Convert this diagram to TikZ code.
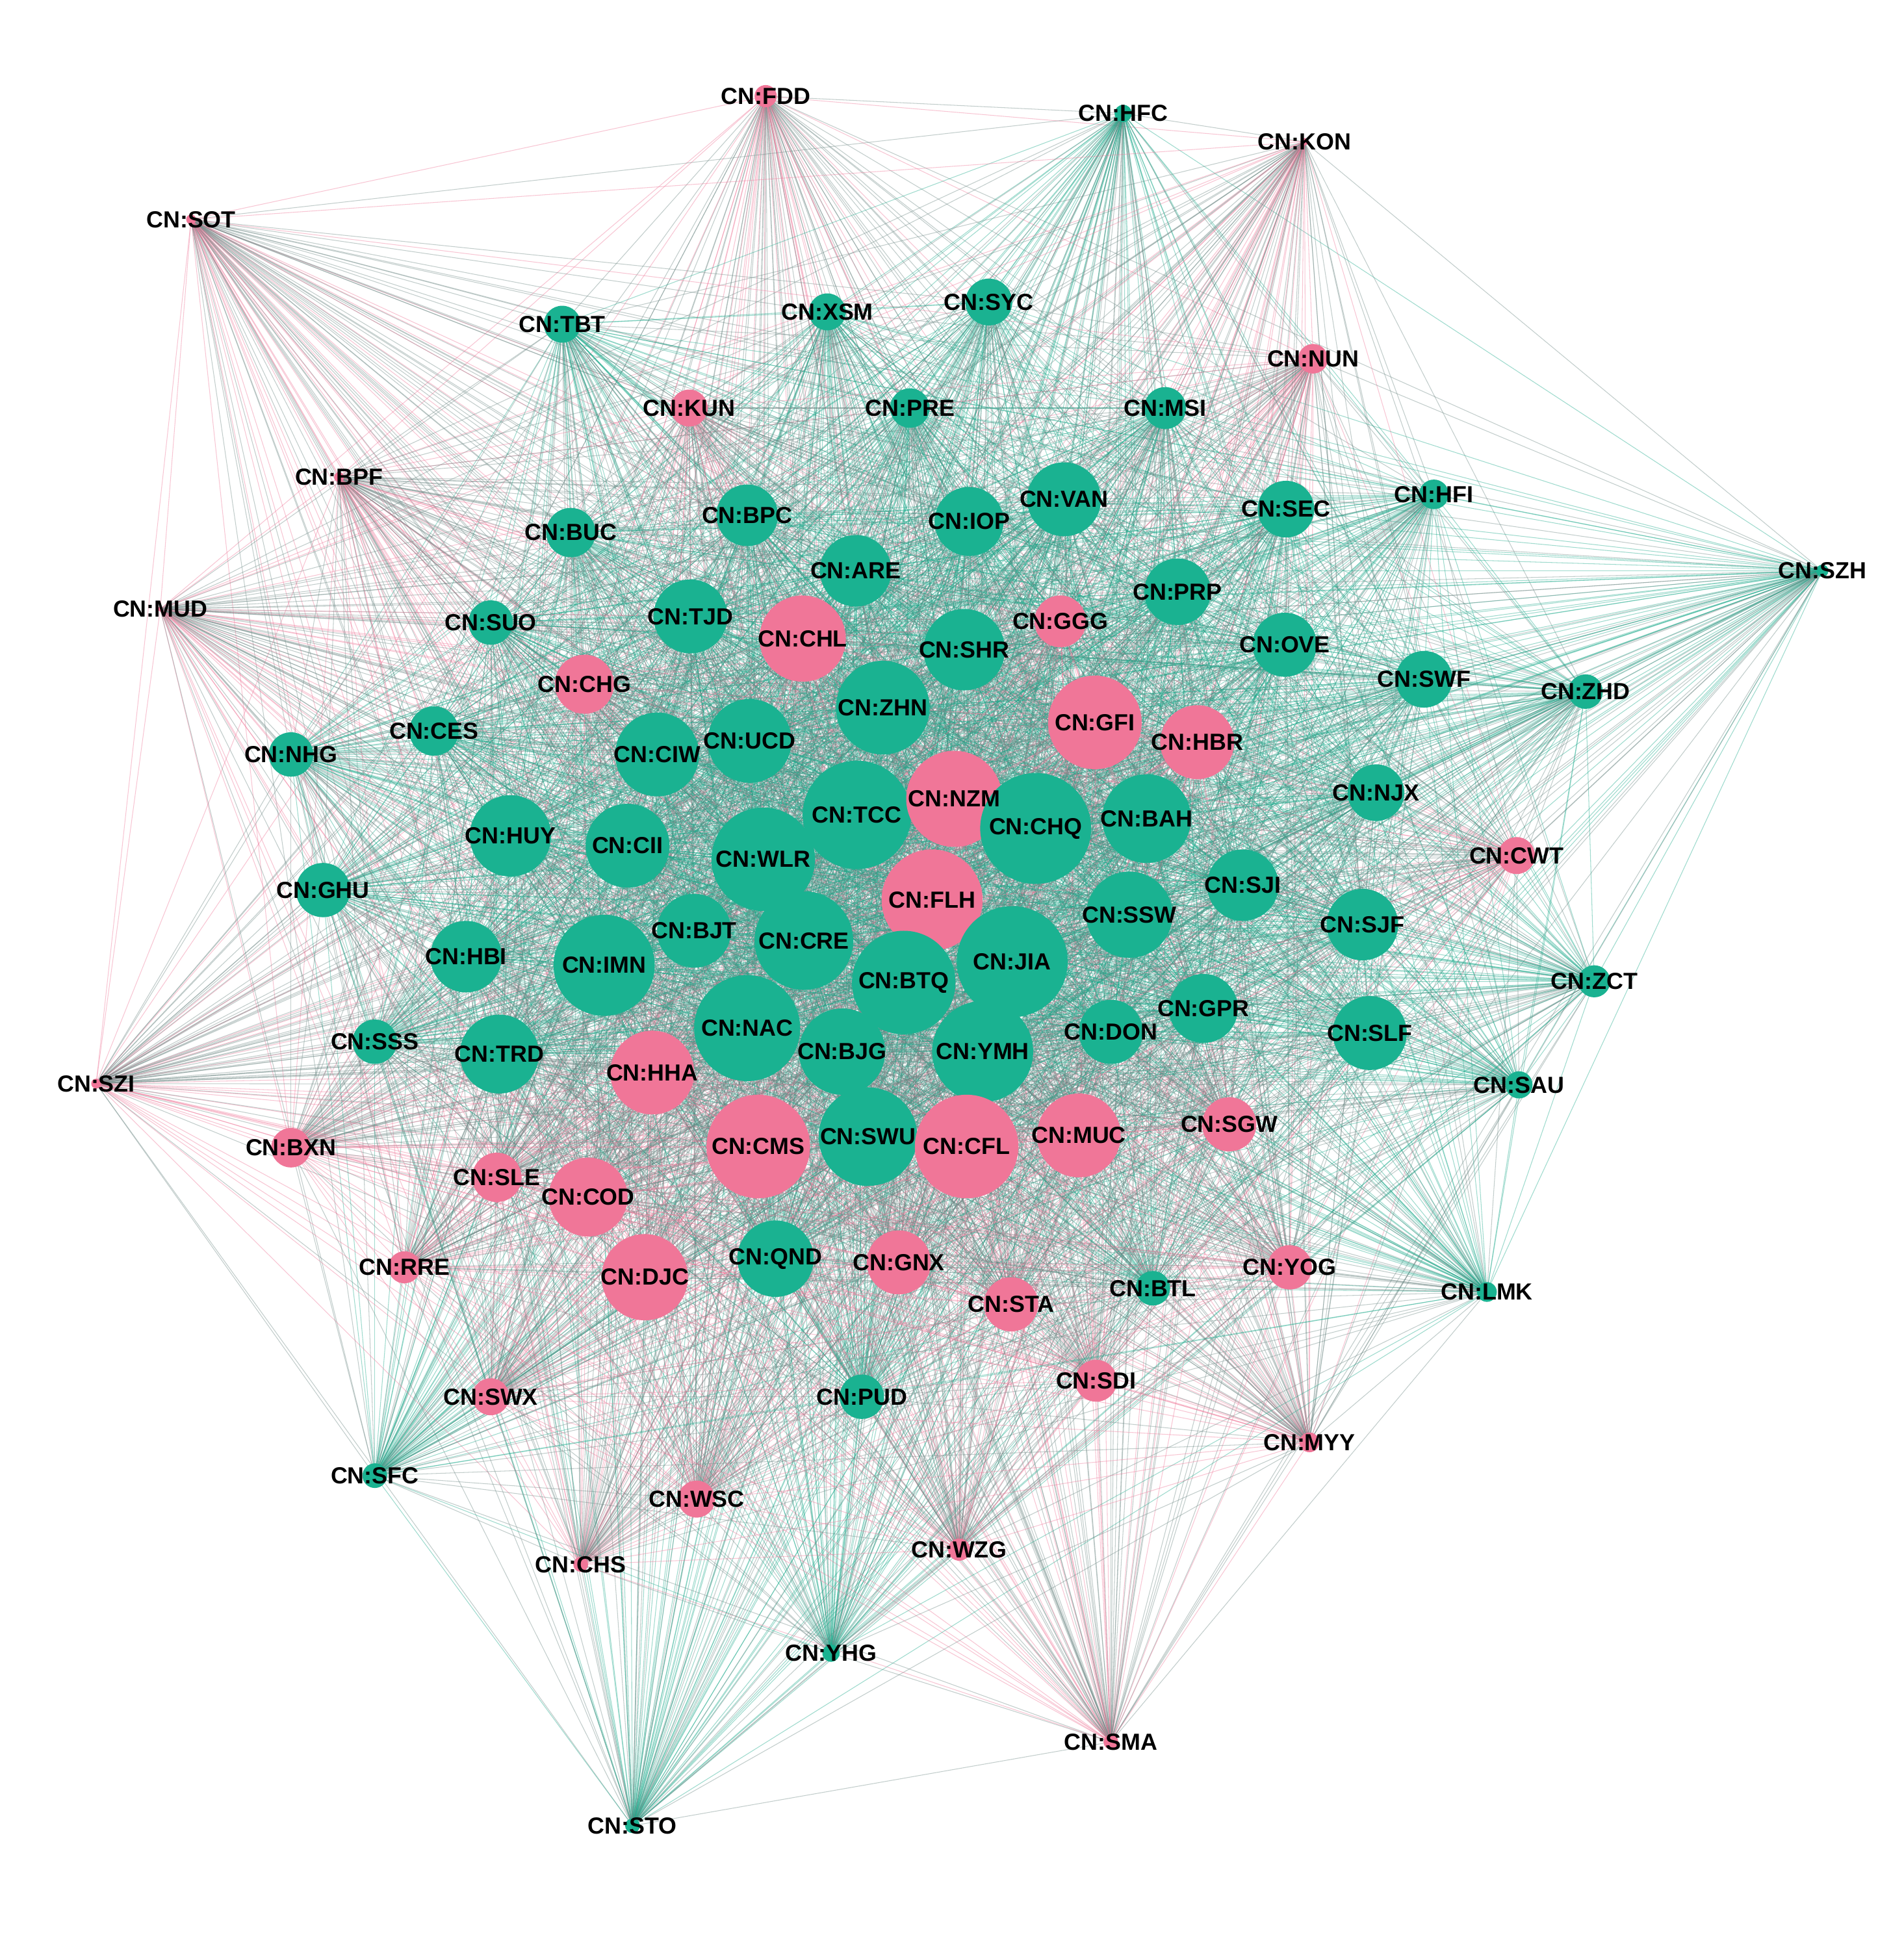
\documentclass[tikz,border=0pt]{standalone}
\usepackage{fontspec}
\setmainfont{Liberation Sans}
\pgfdeclarelayer{bg}
\pgfsetlayers{bg,main}
\definecolor{tcol}{RGB}{26,178,145}
\definecolor{pcol}{RGB}{240,118,152}
\colorlet{ett}{tcol!95!black}
\colorlet{epp}{pcol}
\colorlet{etp}{tcol!55!pcol!90!black}
\colorlet{ept}{tcol!55!pcol!90!black}
\def\nodelist{FDD/621/78/9/p, HFC/911/92/7/t, KON/1058/115/3/p, SOT/155/178/4/p, TBT/456/263/15/t, XSM/671/253/15/t, SYC/802/245/19/t, NUN/1065/291/12/p, KUN/559/331/15/p, PRE/738/331/16/t, MSI/945/331/17/t, BPF/275/387/4/p, BUC/463/432/20/t, BPC/606/418/25/t, IOP/786/423/28/t, VAN/863/405/30/t, SEC/1043/413/23/t, HFI/1163/401/12/t, SZH/1478/463/5/t, MUD/130/494/2/p, SUO/398/505/18/t, TJD/560/500/30/t, ARE/694/463/29/t, CHL/651/518/35/p, SHR/782/527/33/t, GGG/860/504/21/p, PRP/955/480/27/t, OVE/1042/523/26/t, CHG/474/555/24/p, SWF/1155/551/23/t, ZHD/1286/561/14/t, NHG/236/612/18/t, CES/352/593/20/t, CIW/533/612/34/t, UCD/608/601/34/t, ZHN/716/574/38/t, GFI/888/586/38/p, HBR/971/602/30/p, NJX/1116/643/23/t, TCC/695/661/44/t, NZM/774/648/39/p, CHQ/840/672/45/t, BAH/930/664/36/t, HUY/414/678/33/t, CII/509/686/34/t, WLR/619/697/42/t, CWT/1230/694/15/p, GHU/262/722/22/t, FLH/756/730/41/p, SJI/1008/718/29/t, SSW/916/742/35/t, SJF/1105/750/29/t, BJT/563/755/30/t, CRE/652/763/40/t, JIA/821/780/45/t, HBI/378/776/29/t, IMN/490/783/41/t, BTQ/733/797/42/t, ZCT/1293/796/13/t, GPR/976/818/28/t, DON/901/837/26/t, SLF/1111/838/30/t, SSS/304/845/18/t, TRD/405/855/32/t, NAC/606/834/43/t, BJG/683/853/35/t, YMH/797/853/41/t, SZI/78/879/4/p, HHA/529/870/34/p, SAU/1232/880/11/t, BXN/236/931/16/p, CMS/615/930/42/p, SWU/704/922/40/t, CFL/784/930/42/p, MUC/875/921/34/p, SGW/997/912/22/p, SLE/403/955/20/p, COD/477/971/32/p, RRE/328/1028/13/p, DJC/523/1036/35/p, QND/629/1021/31/t, GNX/729/1024/26/p, STA/820/1058/22/p, BTL/935/1045/14/t, YOG/1046/1028/18/p, LMK/1206/1048/8/t, SWX/398/1133/15/p, PUD/699/1133/18/t, SDI/889/1120/17/p, MYY/1062/1170/8/p, SFC/304/1197/10/t, WSC/565/1216/15/p, CHS/471/1269/6/p, WZG/778/1257/9/p, YHG/674/1341/7/t, SMA/901/1413/6/p, STO/513/1481/6/t}
\tikzset{
  vtx/.style={circle, inner sep=0pt, draw=none},
  lbl/.style={font=\fontsize{10.2}{12}\selectfont\bfseries, text=black, inner sep=0pt},
  edg/.style={line width=0.3pt, draw opacity=0.42}
}
\begin{document}
\begin{tikzpicture}[x=0.018977cm, y=-0.018977cm]
\useasboundingbox (0,0) rectangle (1544,1568);
\foreach \n/\x/\y/\r/\c in \nodelist {
  \node[vtx, fill=\c col, minimum size={2*\r*0.018977cm}] (\n) at (\x,\y) {};
}
\begin{pgfonlayer}{bg}
\fill[white] (0,0) rectangle (1544,1568);
\foreach \a/\xa/\ya/\ra/\ca [count=\i] in \nodelist {
  \foreach \b/\xb/\yb/\rb/\cb [count=\j] in \nodelist {
    \ifnum\j>\i
      \draw[edg, draw=e\ca\cb] (\a.center) -- (\b.center);
    \fi
  }
}
\end{pgfonlayer}
\foreach \n/\x/\y/\r/\c in \nodelist {
  \node[lbl] (L\n) at (\n.center) {CN:\n};
}
\end{tikzpicture}
\end{document}
